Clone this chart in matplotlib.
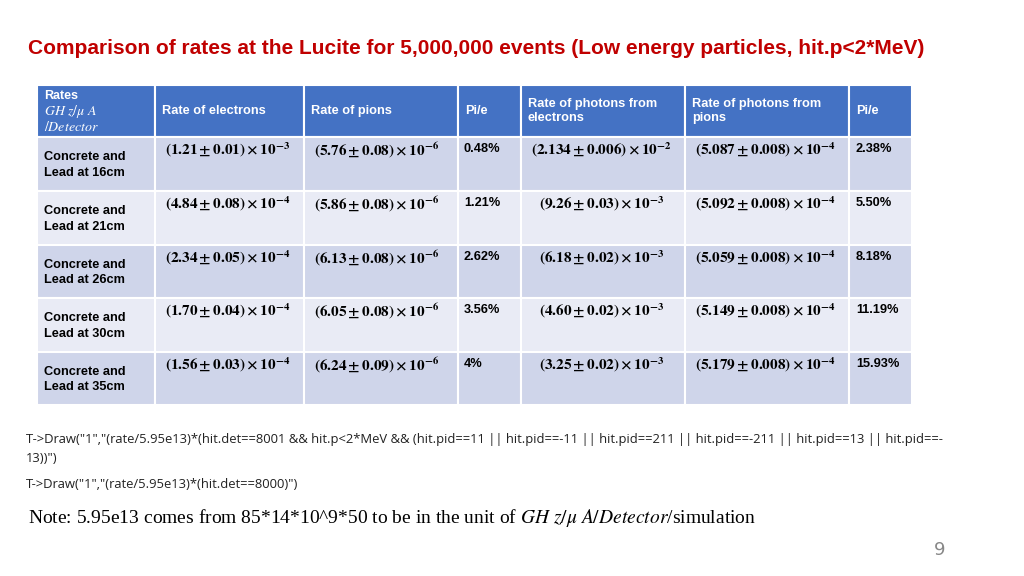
import matplotlib
matplotlib.use("Agg")
import matplotlib.pyplot as plt
from matplotlib.patches import Rectangle

plt.rcParams['mathtext.fontset'] = 'stix'

headers = ["Rates", "Rate of electrons", "Rate of pions", "Pi/e",
           "Rate of photons from\nelectrons", "Rate of photons from\npions", "Pi/e"]
rows = ["Concrete and\nLead at 16cm", "Concrete and\nLead at 21cm", "Concrete and\nLead at 26cm",
        "Concrete and\nLead at 30cm", "Concrete and\nLead at 35cm"]
elec = [("1.21", "0.01", "-3"), ("4.84", "0.08", "-4"), ("2.34", "0.05", "-4"), ("1.70", "0.04", "-4"), ("1.56", "0.03", "-4")]
pion = [("5.76", "0.08", "-6"), ("5.86", "0.08", "-6"), ("6.13", "0.08", "-6"), ("6.05", "0.08", "-6"), ("6.24", "0.09", "-6")]
ratio1 = ["0.48%", "1.21%", "2.62%", "3.56%", "4%"]
ph_e = [("2.134", "0.006", "-2"), ("9.26", "0.03", "-3"), ("6.18", "0.02", "-3"), ("4.60", "0.02", "-3"), ("3.25", "0.02", "-3")]
ph_p = [("5.087", "0.008", "-4"), ("5.092", "0.008", "-4"), ("5.059", "0.008", "-4"), ("5.149", "0.008", "-4"), ("5.179", "0.008", "-4")]
ratio2 = ["2.38%", "5.50%", "8.18%", "11.19%", "15.93%"]

W, H = 1024, 576
fig = plt.figure(figsize=(W/100, H/100), dpi=100)
ax = fig.add_axes([0, 0, 1, 1])
ax.set_xlim(0, W); ax.set_ylim(H, 0); ax.axis('off')

ax.text(28, 49, "Comparison of rates at the Lucite for 5,000,000 events (Low energy particles, hit.p<2*MeV)",
        color="#C00000", fontsize=15, fontweight='bold', va='center', family='Liberation Sans')

xs = [37, 155, 304, 458, 521, 685, 849, 912]
ys = [85, 137, 191, 245, 298, 352, 405]
for i in range(6):
    color = "#4472C4" if i == 0 else ("#CFD5EA" if i % 2 == 1 else "#E9EBF5")
    for j in range(7):
        ax.add_patch(Rectangle((xs[j], ys[i]), xs[j+1]-xs[j], ys[i+1]-ys[i],
                               facecolor=color, edgecolor='white', lw=1.5))

hy = (ys[0] + ys[1]) / 2
ax.text(44, 96, "Rates", color='white', fontsize=9, fontweight='bold', va='center', family='Liberation Sans')
ax.text(44, 111, r"$\mathbf{\mathit{GH\ z/\mu\ A}}$", color='white', fontsize=10, va='center')
ax.text(44, 127, r"$\mathbf{\mathit{/Detector}}$", color='white', fontsize=10, va='center')
for j in range(1, 7):
    ax.text(xs[j] + 7, hy, headers[j], color='white', fontsize=9.2, fontweight='bold', va='center',
            family='Liberation Sans', linespacing=1.3)

def fmt(v):
    m, e, p = v
    return r"$\mathbf{(%s \pm %s) \times 10^{%s}}$" % (m, e, p)

for i in range(5):
    y0 = ys[i+1]
    ax.text(44, (y0 + ys[i+2]) / 2 + 1, rows[i], fontsize=9.2, fontweight='bold', va='center',
            family='Liberation Sans', linespacing=1.35)
    ty = y0 + 13
    ax.text(xs[1] + 10, ty, fmt(elec[i]), fontsize=11, va='center')
    ax.text(xs[2] + 10, ty, fmt(pion[i]), fontsize=11, va='center')
    ax.text(xs[3] + 6, ty - 1, ratio1[i], fontsize=9.2, fontweight='bold', va='center', family='Liberation Sans')
    ax.text(xs[4] + 10 + (8 if i > 0 else 0), ty, fmt(ph_e[i]), fontsize=11, va='center')
    ax.text(xs[5] + 10, ty, fmt(ph_p[i]), fontsize=11, va='center')
    ax.text(xs[6] + 7, ty - 1, ratio2[i], fontsize=9.2, fontweight='bold', va='center', family='Liberation Sans')

small = dict(fontsize=9.4, va='center', family='Open Sans', color='#222222')
ax.text(26, 440, 'T->Draw("1","(rate/5.95e13)*(hit.det==8001 && hit.p<2*MeV && (hit.pid==11 || hit.pid==-11 || hit.pid==211 || hit.pid==-211 || hit.pid==13 || hit.pid==-', **small)
ax.text(26, 458, '13))")', **small)
ax.text(26, 485, 'T->Draw("1","(rate/5.95e13)*(hit.det==8000)")', **small)
ax.text(28, 518, r"Note: 5.95e13 comes from 85*14*10^9*50 to be in the unit of $GH\ z/\mu\ A/Detector$/simulation",
        fontsize=14, va='center', family='Liberation Serif')
ax.text(940, 550, "9", fontsize=13, color='#888888', va='center', ha='center')

fig.savefig("out.png", dpi=100)
